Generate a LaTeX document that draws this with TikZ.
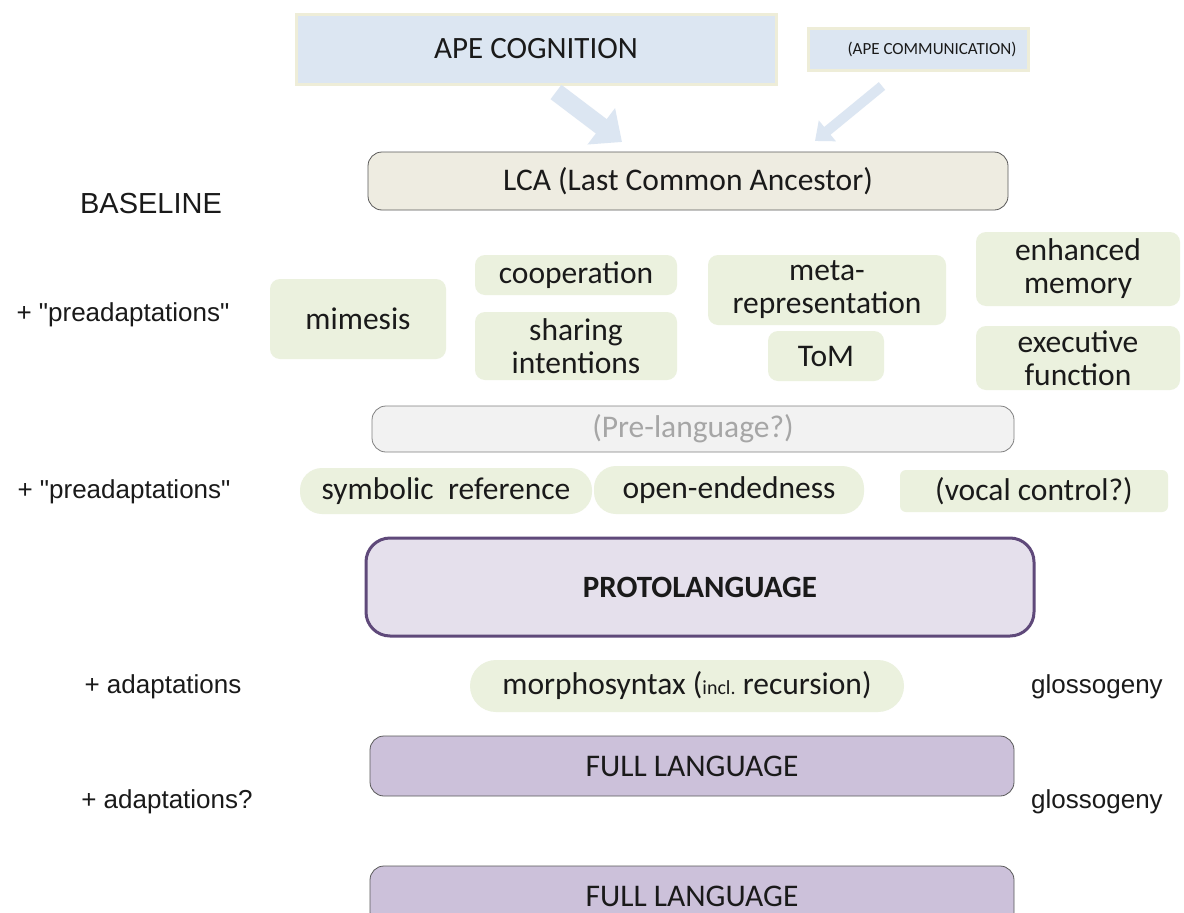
\documentclass[tikz,border=0pt]{standalone}
\usepackage{fontspec}
\setmainfont{Carlito}
\newfontfamily\sidefont{Liberation Sans}
\usetikzlibrary{arrows.meta}

\definecolor{apefill}{HTML}{DCE6F2}
\definecolor{apeedge}{HTML}{EEEDD8}
\definecolor{lcafill}{HTML}{EEECE1}
\definecolor{traitfill}{HTML}{EBF1DE}
\definecolor{prefill}{HTML}{F2F2F2}
\definecolor{pretext}{HTML}{A6A6A6}
\definecolor{protofill}{HTML}{E5E0EC}
\definecolor{protoedge}{HTML}{5F497A}
\definecolor{fullfill}{HTML}{CCC1DA}
\definecolor{stageedge}{HTML}{595959}
\definecolor{inktext}{HTML}{1A1A1A}

\tikzset{
  x=1pt, y=-1pt,
  txt/.style={font=\fontsize{#1}{#1}\selectfont},
  apebox/.style={fill=apefill, draw=apeedge, line width=3pt, inner sep=0pt, text=inktext},
  stagebox/.style={draw=stageedge, line width=0.8pt, rounded corners=14pt, inner sep=0pt, text=inktext, txt=31.5},
  trait/.style={fill=traitfill, rounded corners=10pt, inner sep=0pt, align=center, text=inktext,
                font=\fontsize{31.5}{33}\selectfont},
  sidelabel/.style={font=\sidefont\fontsize{26}{30}\selectfont, text=inktext, inner sep=0pt, anchor=base},
  blockarrow/.style={draw=apefill, line width=#1},
}

\begin{document}
\begin{tikzpicture}
\clip (0,0) rectangle (1184,913);
\fill[white] (0,0) rectangle (1184,913);

% ape sources
\node[apebox, minimum width=480, minimum height=70, txt=31] (ape) at (536,49) {APE COGNITION};
\node[apebox, minimum width=220, minimum height=42, txt=17] (apecomm) at (918,49) {\hspace{28pt}(APE COMMUNICATION)};

% baseline
\node[stagebox, fill=lcafill, minimum width=640, minimum height=58] (lca) at (688,181) {LCA (Last Common Ancestor)};

% arrows from the ape sources into the baseline
\coordinate (a1s) at (556,92);
\coordinate (a1e) at (622,142);
\coordinate (a2s) at (882,86);
\coordinate (a2e) at (815,141);
\draw[blockarrow=18pt, -{Triangle[width=44pt,length=26pt]}, apefill] (a1s) -- (a1e);
\draw[blockarrow=10pt, -{Triangle[width=26pt,length=16pt]}, apefill] (a2s) -- (a2e);

% first set of preadaptations
\node[trait, minimum width=176, minimum height=80] (mimesis) at (358,319) {mimesis};
\node[trait, minimum width=202, minimum height=40] (coop) at (576,275) {cooperation};
\node[trait, minimum width=202, minimum height=68] (share) at (576,346) {sharing\\intentions};
\node[trait, minimum width=238, minimum height=70] (meta) at (827,290) {meta-\\representation};
\node[trait, minimum width=116, minimum height=50] (tom) at (826,356) {ToM};
\node[trait, minimum width=204, minimum height=74] (memory) at (1078,269) {enhanced\\memory};
\node[trait, minimum width=204, minimum height=64] (exec) at (1078,358) {executive\\function};

% pre-language stage
\node[stagebox, fill=prefill, draw=gray, text=pretext, minimum width=642, minimum height=46] (prelang) at (693,429) {(Pre-language?)};

% second set of preadaptations
\node[trait, rounded corners=22pt, minimum width=292, minimum height=46] (symref) at (446,491) {symbolic\ \ reference};
\node[trait, rounded corners=22pt, minimum width=270, minimum height=48] (openend) at (729,490) {open-endedness};
\node[trait, rounded corners=6pt, minimum width=268, minimum height=42] (vocal) at (1034,491) {(vocal control?)};

% protolanguage
\node[stagebox, fill=protofill, draw=protoedge, line width=3pt, rounded corners=24pt,
      minimum width=668, minimum height=98, font=\fontsize{31}{33}\selectfont\bfseries] (proto) at (700,587) {PROTOLANGUAGE};

% adaptations
\node[trait, rounded corners=26pt, minimum width=434, minimum height=52] (morpho) at (687,686)
  {morphosyntax (\fontsize{20}{22}\selectfont incl.\fontsize{31.5}{33}\selectfont\ recursion)};

% full language stages
\node[stagebox, fill=fullfill, minimum width=644, minimum height=60] (full1) at (692,766) {FULL LANGUAGE};
\node[stagebox, fill=fullfill, minimum width=644, minimum height=60] (full2) at (692,896) {FULL LANGUAGE};

% side labels
\node[sidelabel, font=\sidefont\fontsize{29}{32}\selectfont] (baseline) at (151,213) {BASELINE};
\node[sidelabel] (pre1) at (123,321) {+ "preadaptations"};
\node[sidelabel] (pre2) at (124,498) {+ "preadaptations"};
\node[sidelabel] (adapt1) at (163,693) {+ adaptations};
\node[sidelabel] (adapt2) at (167,808) {+ adaptations?};
\node[sidelabel] (gloss1) at (1097,693) {glossogeny};
\node[sidelabel] (gloss2) at (1097,808) {glossogeny};
\end{tikzpicture}
\end{document}
